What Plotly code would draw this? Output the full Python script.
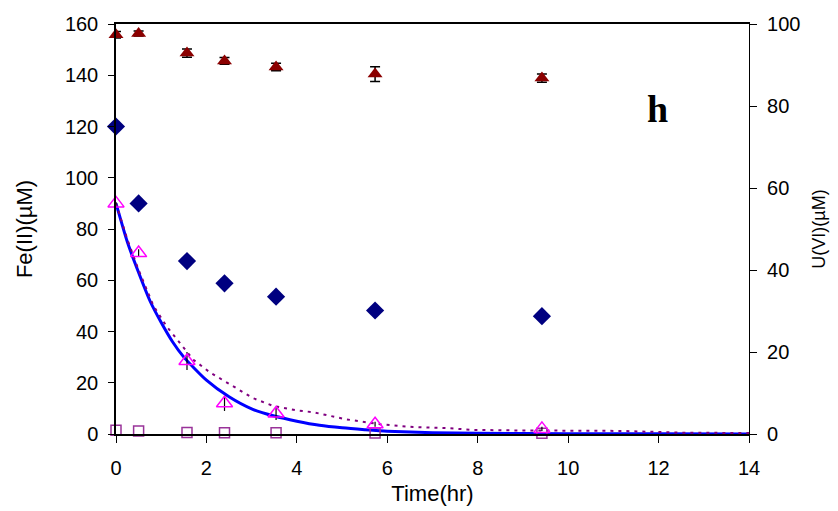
import plotly.graph_objects as go

# Sampling times (hr)
t = [0, 0.5, 1.57, 2.4, 3.54, 5.73, 9.42]

# Fe(II) (uM, left axis) - filled navy diamonds
fe_diamond = [120, 90, 67.5, 58.8, 53.6, 48.2, 46.0]

# U(VI) (uM, right axis) - filled dark red triangles with error bars
u_tri = [97.4, 97.7, 92.9, 91.0, 89.5, 87.8, 86.8]
u_tri_err = [0.8, 0.6, 1.0, 0.8, 0.9, 1.8, 1.0]

# open magenta triangles (left axis)
mag_tri = [90, 70.6, 28.5, 12.0, 8.0, 3.8, 2.0]
mag_tri_err = [0.5, 1.5, 3.5, 3.0, 2.5, 1.0, 0.8]

# open purple squares (left axis)
sq = [1.5, 1.2, 0.6, 0.5, 0.5, 0.4, 0.3]

# model curve (solid blue)
t_model = [0, 0.25, 0.5, 0.75, 1.0, 1.25, 1.5, 2.0, 2.5, 3.0, 3.5, 4.0, 4.5,
           5.0, 5.5, 6.0, 7.0, 8.0, 10.0, 12.0, 14.0]
model_solid = [90, 75, 63, 52, 43.5, 36, 30, 21, 14.5, 9.8, 7.0, 5.0, 3.4,
               2.4, 1.7, 1.1, 0.5, 0.25, 0.1, 0.05, 0.03]

# model curve (dotted purple)
t_dot = [0, 0.25, 0.5, 0.83, 1.12, 1.71, 2.08, 2.59, 3.03, 3.47, 4.0, 4.36,
         5.1, 5.84, 6.57, 7.32, 7.9, 8.8, 10.3, 11.2, 12.5, 14.0]
model_dot = [90, 76, 64, 50, 42, 29, 24, 18.5, 14, 11, 9.2, 8.5,
             5.7, 3.8, 2.7, 2.3, 1.6, 1.4, 1.3, 1.2, 0.5, 0.4]

fig = go.Figure()

fig.add_trace(go.Scatter(x=t_model, y=model_solid, mode="lines",
                         line=dict(color="#0000FF", width=3, shape="spline", smoothing=0.6),
                         yaxis="y"))
fig.add_trace(go.Scatter(x=t_dot, y=model_dot, mode="lines",
                         line=dict(color="#800080", width=2, dash="3px,5px"), yaxis="y"))
fig.add_trace(go.Scatter(x=t, y=fe_diamond, mode="markers", cliponaxis=False,
                         marker=dict(symbol="diamond", color="#000080", size=14), yaxis="y"))
fig.add_trace(go.Scatter(x=t, y=sq, mode="markers", cliponaxis=False,
                         marker=dict(symbol="square-open", color="#993399", size=10,
                                     line=dict(width=1.5)), yaxis="y"))
fig.add_trace(go.Scatter(x=t, y=mag_tri, mode="markers", cliponaxis=False,
                         error_y=dict(type="data", array=mag_tri_err, color="black",
                                      thickness=1.2, width=0),
                         marker=dict(symbol="triangle-up-open", color="#FF00FF", size=14,
                                     line=dict(width=1.5)), yaxis="y"))
fig.add_trace(go.Scatter(x=t, y=u_tri, mode="markers", cliponaxis=False,
                         error_y=dict(type="data", array=u_tri_err, color="black",
                                      thickness=1.5, width=5),
                         marker=dict(symbol="triangle-up", color="#8B0000", size=13),
                         yaxis="y2"))

FAM = "Liberation Sans, Arial, sans-serif"
tickfont = dict(family=FAM, size=20, color="black")
titlefont = dict(family=FAM, size=22, color="black")

fig.update_layout(
    width=838, height=511,
    margin=dict(l=116, r=89, t=24, b=77),
    paper_bgcolor="white", plot_bgcolor="white",
    showlegend=False,
    font=tickfont,
    xaxis=dict(range=[0, 14], tickvals=[0, 2, 4, 6, 8, 10, 12, 14],
               showline=True, linecolor="black", linewidth=1.5, mirror=True,
               ticks="outside", ticklen=7, tickcolor="black", showgrid=False,
               tickfont=tickfont, automargin=False, ticklabelstandoff=8,
               zeroline=False, title=dict(text="Time(hr)", font=titlefont, standoff=8)),
    yaxis=dict(range=[0, 160], tickvals=[0, 20, 40, 60, 80, 100, 120, 140, 160],
               showline=True, linecolor="black", linewidth=1.5,
               ticks="outside", ticklen=6, tickcolor="black", showgrid=False,
               tickfont=tickfont, automargin=False, ticklabelstandoff=6,
               zeroline=False, title=dict(text="Fe(II)(µM)", font=titlefont, standoff=26)),
    yaxis2=dict(range=[0, 100], tickvals=[0, 20, 40, 60, 80, 100],
                overlaying="y", side="right",
                showline=True, linecolor="black", linewidth=1.2,
                ticks="outside", ticklen=7, tickcolor="black", showgrid=False,
                tickfont=tickfont, automargin=False, ticklabelstandoff=6,
                zeroline=False, title=dict(text="U(VI)(µM)",
                                           font=dict(family=FAM, size=18, color="black"),
                                           standoff=12)),
    annotations=[dict(text="<b>h</b>", x=0.5, y=0.5, xref="paper", yref="paper",
                      showarrow=False,
                      font=dict(family="Liberation Serif, Times New Roman, serif",
                                size=38, color="black"))],
)
# position annotation in pixel-equivalent paper coords
pw = 838 - 116 - 89
ph = 511 - 24 - 77
fig.layout.annotations[0].x = (670 - 116) / pw
fig.layout.annotations[0].y = (511 - 77 - 86) / ph

fig.write_html("out.html")
